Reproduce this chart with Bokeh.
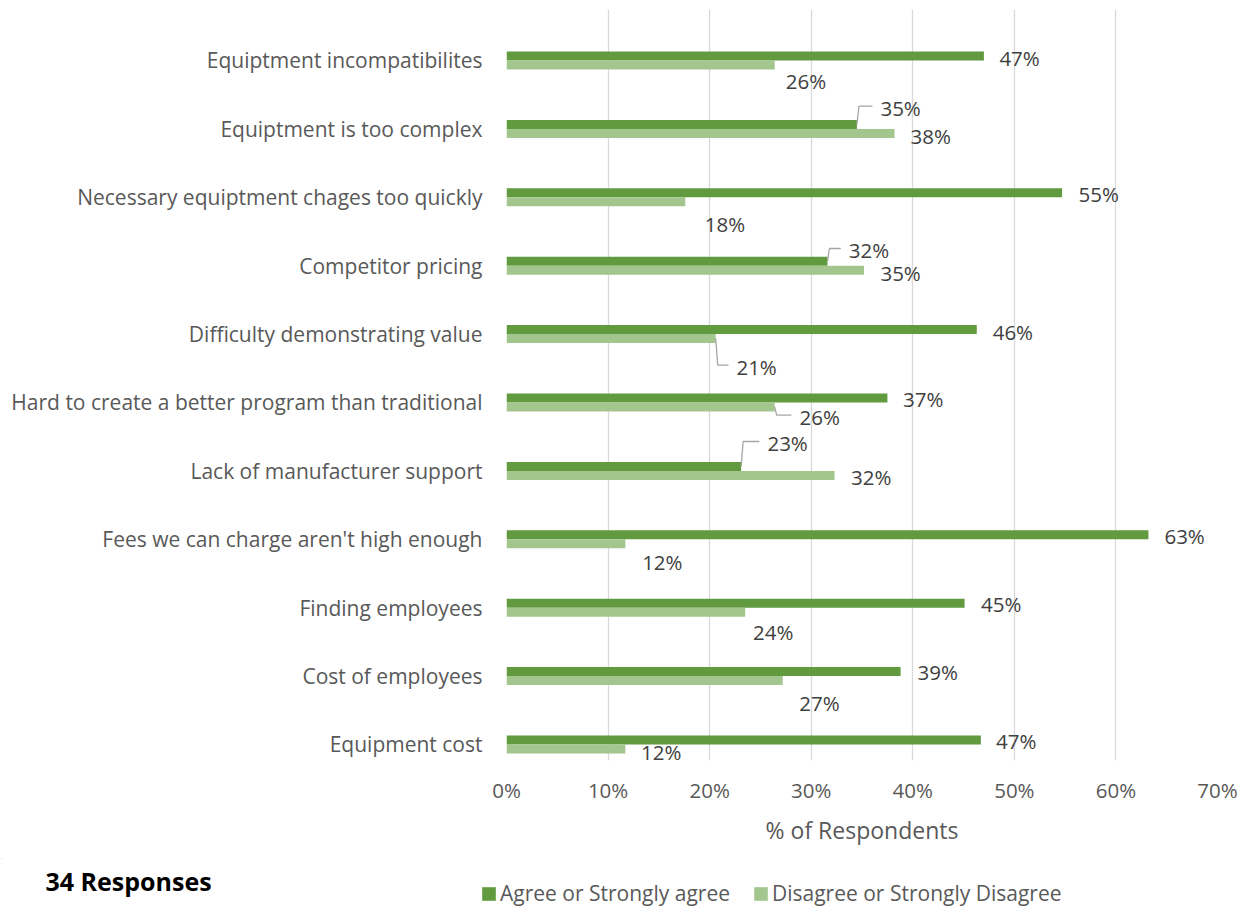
from bokeh.plotting import figure
from bokeh.layouts import column
from bokeh.models import (Range1d, FixedTicker, PrintfTickFormatter, Label,
                          Legend, LegendItem, ColumnDataSource)
from bokeh.core.properties import value
from bokeh.embed import file_html
from bokeh.resources import INLINE

# ---------------- data ----------------
categories = [
    "Equiptment incompatibilites",
    "Equiptment is too complex",
    "Necessary equiptment chages too quickly",
    "Competitor pricing",
    "Difficulty demonstrating value",
    "Hard to create a better program than traditional",
    "Lack of manufacturer support",
    "Fees we can charge aren't high enough",
    "Finding employees",
    "Cost of employees",
    "Equipment cost",
]
agree = [47.0, 34.5, 54.7, 31.6, 46.3, 37.5, 23.1, 63.2, 45.1, 38.8, 46.7]
disagree = [26.4, 38.2, 17.6, 35.2, 20.6, 26.4, 32.3, 11.7, 23.5, 27.2, 11.7]
agree_labels = ["47%", "35%", "55%", "32%", "46%", "37%", "23%", "63%", "45%", "39%", "47%"]
disagree_labels = ["26%", "38%", "18%", "35%", "21%", "26%", "32%", "12%", "24%", "27%", "12%"]
x_ticks = [0, 10, 20, 30, 40, 50, 60, 70]
series_names = ["Agree or Strongly agree", "Disagree or Strongly Disagree"]
footnote = "34 Responses"

# ---------------- styles / label nudges (pixels) ----------------
DARK = "#619A3F"
LIGHT = "#A3C68F"
FONT = "Open Sans"
W = 1239
MAIN_H = 858
FOOT_H = 49
agree_nudge = [(15.5, 1.8), (23.5, -16.2), (16.5, 1.7), (21.3, -10.7), (15.9, 2.6),
               (15.7, 1.5), (26.3, -22.9), (16.0, 1.7), (16.5, 1.3), (17.0, 0.9), (15.2, 1.2)]
disagree_nudge = [(11.1, 16.2), (16.0, 3.1), (19.5, 22.0), (16.4, 2.6), (20.7, 28.6),
                  (24.8, 10.2), (16.5, 1.8), (16.8, 18.4), (7.9, 20.3), (16.6, 22.6), (15.6, 3.5)]
agree_leader = [1, 3, 6]
disagree_leader = [4, 5]

PX_X = 10.16   # pixels per percent
PX_Y = 68.4    # pixels per category
BAR_H = 9 / PX_Y

pos = list(range(len(categories)))

p = figure(width=W, height=MAIN_H, output_backend="svg", toolbar_location=None,
           x_range=Range1d(0, 70), y_range=Range1d(10.234, -0.7456),
           min_border_left=506, min_border_right=22, min_border_top=9,
           min_border_bottom=MAIN_H - 760, frame_align=False)
p.outline_line_color = None
p.background_fill_color = "white"

# bars
src_a = ColumnDataSource(dict(y=[v - BAR_H / 2 for v in pos], right=agree))
src_d = ColumnDataSource(dict(y=[v + BAR_H / 2 for v in pos], right=disagree))
p.hbar(y="y", left=0, right="right", height=BAR_H, source=src_a,
       fill_color=DARK, line_color=None)
p.hbar(y="y", left=0, right="right", height=BAR_H, source=src_d,
       fill_color=LIGHT, line_color=None)


def place(values, ybase, nudges, leaders):
    lx, ly, lxs, lys = [], [], [], []
    for i, (v, yb) in enumerate(zip(values, ybase)):
        dx, dy = nudges[i]
        x = v + dx / PX_X
        y = yb + dy / PX_Y
        lx.append(x)
        ly.append(y)
        if i in leaders:
            yl = y - 2 / PX_Y
            lxs.append([v, v + 2 / PX_X, x - 8 / PX_X])
            lys.append([yb, yl, yl])
    return lx, ly, lxs, lys


ax, ay, axs, ays = place(agree, src_a.data["y"], agree_nudge, agree_leader)
dxl, dyl, dxs, dys = place(disagree, src_d.data["y"], disagree_nudge, disagree_leader)

p.multi_line(xs=axs + dxs, ys=ays + dys, line_color="#A6A6A6", line_width=1.3)

for xs_, ys_, txt in ((ax, ay, agree_labels), (dxl, dyl, disagree_labels)):
    p.text(x=xs_, y=ys_, text=txt, text_font=value(FONT), text_font_size="20.5px",
           text_color="#404040", text_align="left", text_baseline="middle")

# axes
p.xaxis.ticker = FixedTicker(ticks=x_ticks)
p.xaxis.formatter = PrintfTickFormatter(format="%d%%")
p.xaxis.axis_line_color = None
p.xaxis.major_tick_line_color = None
p.xaxis.minor_tick_line_color = None
p.xaxis.major_tick_out = 0
p.xaxis.major_tick_in = 0
p.xaxis.major_label_standoff = 15
p.xaxis.major_label_text_font = FONT
p.xaxis.major_label_text_font_size = "20.5px"
p.xaxis.major_label_text_color = "#595959"
p.xaxis.axis_label = "% of Respondents"
p.xaxis.axis_label_text_font = FONT
p.xaxis.axis_label_text_font_size = "23px"
p.xaxis.axis_label_text_font_style = "normal"
p.xaxis.axis_label_text_color = "#595959"
p.xaxis.axis_label_standoff = 7

p.yaxis.ticker = FixedTicker(ticks=pos)
p.yaxis.major_label_overrides = {i: c for i, c in enumerate(categories)}
p.yaxis.axis_line_color = None
p.yaxis.major_tick_line_color = None
p.yaxis.minor_tick_line_color = None
p.yaxis.major_tick_out = 0
p.yaxis.major_tick_in = 0
p.yaxis.major_label_standoff = 24
p.yaxis.major_label_text_font = FONT
p.yaxis.major_label_text_font_size = "21px"
p.yaxis.major_label_text_color = "#595959"

p.xgrid.grid_line_color = "#D9D9D9"
p.xgrid.grid_line_width = 1.3
p.ygrid.grid_line_color = None

# ---------------- footer: footnote + legend ----------------
f = figure(width=W, height=FOOT_H, output_backend="svg", toolbar_location=None,
           x_range=Range1d(0, W), y_range=Range1d(FOOT_H, 0),
           x_axis_type=None, y_axis_type=None,
           min_border_left=0, min_border_right=0, min_border_top=0,
           min_border_bottom=0, frame_align=False)
f.outline_line_color = None
f.xgrid.grid_line_color = None
f.ygrid.grid_line_color = None

# legend keys (drawn outside the visible footer range; only their swatches show)
la = f.hbar(y=[-1000], left=[0], right=[1], height=1, fill_color=DARK, line_color=None)
ld = f.hbar(y=[-1000], left=[0], right=[1], height=1, fill_color=LIGHT, line_color=None)

f.add_layout(Label(x=45, y=880 - MAIN_H, text=footnote, text_font=FONT,
                   text_font_size="25px", text_font_style="bold",
                   text_color="#000000", text_baseline="middle",
                   text_align="left"))

legend = Legend(items=[LegendItem(label=series_names[0], renderers=[la]),
                       LegendItem(label=series_names[1], renderers=[ld])],
                orientation="horizontal", location=(480, 0),
                glyph_width=17, glyph_height=17, label_standoff=3, spacing=22,
                padding=0, margin=0, border_line_color=None,
                background_fill_alpha=0, label_text_font=FONT,
                label_text_font_size="21px", label_text_color="#595959",
                label_height=20)
f.add_layout(legend, "center")

layout = column(p, f, spacing=0)
open("out.html", "w").write(file_html(layout, INLINE))
